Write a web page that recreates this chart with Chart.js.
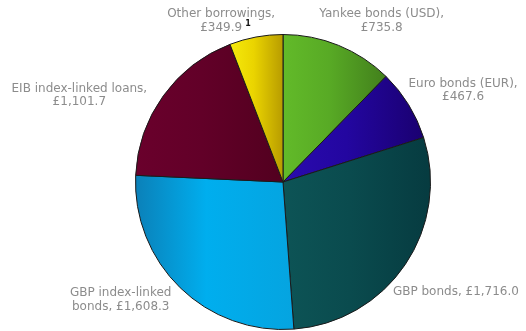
<!DOCTYPE html>
<html>
<head>
<meta charset="utf-8">
<script src="https://cdn.jsdelivr.net/npm/chart.js@4/dist/chart.umd.min.js"></script>
<style>
html,body{margin:0;padding:0;background:#fff;}
#wrap{width:526px;height:331px;}
</style>
</head>
<body>
<div id="wrap"><canvas id="pieChart"></canvas></div>
<script>
// borrowings by source, £m
const labels = ['Yankee bonds (USD)','Euro bonds (EUR)','GBP bonds','GBP index-linked bonds','EIB index-linked loans','Other borrowings'];
const amounts = [735.8, 467.6, 1716.0, 1608.3, 1101.7, 349.9];
const footnotes = ['', '', '', '', '', '1'];

// left / middle / right shade of each slice
const shades = [
  ['#62ba29','#58aa25','#427f1c'],
  ['#2a0aae','#2306a0','#1a0070'],
  ['#0d5456','#0a4b4e','#063b40'],
  ['#0b80b8','#00aeee','#05a4e0'],
  ['#6a002c','#620028','#52001f'],
  ['#f5ea0c','#ead400','#b89c00']
];

// caption placement: angle from 12 o'clock (deg), distance in radii, wrap width
const captionAngle = [31.5, 63, 122.5, 234, 293, 339];
const captionDist = [1.28, 1.37, 1.39, 1.36, 1.50, 1.17];
const captionWrap = [140, 125, 150, 115, 160, 125];

const total = amounts.reduce((a,b)=>a+b,0);
const money = v => '£' + v.toLocaleString('en-GB',{minimumFractionDigits:1,maximumFractionDigits:1});

function sliceGradient(chart, i){
  const area = chart.chartArea;
  if(!area) return shades[i][1];
  const cx = (area.left+area.right)/2, cy = (area.top+area.bottom)/2;
  const r = Math.min(area.right-area.left, area.bottom-area.top)/2;
  let before = 0;
  for(let k=0;k<i;k++) before += amounts[k];
  const a0 = -Math.PI/2 + 2*Math.PI*before/total;
  const a1 = a0 + 2*Math.PI*amounts[i]/total;
  const xs = [cx, cx + r*Math.cos(a0), cx + r*Math.cos(a1)];
  const inside = a => {
    let t = a;
    while(t < a0) t += 2*Math.PI;
    return t <= a1;
  };
  if(inside(0)) xs.push(cx + r);
  if(inside(Math.PI)) xs.push(cx - r);
  const x0 = Math.min(...xs), x1 = Math.max(...xs);
  const g = chart.ctx.createLinearGradient(x0, 0, x1, 0);
  g.addColorStop(0, shades[i][0]);
  g.addColorStop(0.45, shades[i][1]);
  g.addColorStop(1, shades[i][2]);
  return g;
}

function wrapText(ctx, text, width){
  const words = text.split(' ');
  const lines = [];
  let cur = '';
  words.forEach(w=>{
    const test = cur ? cur + ' ' + w : w;
    if(cur && ctx.measureText(test).width > width){ lines.push(cur); cur = w; }
    else cur = test;
  });
  lines.push(cur);
  return lines;
}

const captions = {
  id:'captions',
  afterDatasetsDraw(chart){
    const ctx = chart.ctx;
    const arcs = chart.getDatasetMeta(0).data;
    ctx.save();
    ctx.font = '12px "DejaVu Sans", sans-serif';
    ctx.textAlign = 'center';
    ctx.textBaseline = 'middle';
    arcs.forEach((arc,i)=>{
      const ang = captionAngle[i]*Math.PI/180;
      const d = arc.outerRadius*captionDist[i];
      const x = arc.x + d*Math.sin(ang);
      const y = arc.y - d*Math.cos(ang);
      const lines = wrapText(ctx, labels[i] + ', ' + money(amounts[i]), captionWrap[i]);
      const lh = 13.5;
      const y0 = y - (lines.length-1)*lh/2;
      lines.forEach((ln,k)=>{
        ctx.fillStyle = '#8c8c8c';
        ctx.fillText(ln, x, y0 + k*lh);
        if(footnotes[i] && k === lines.length-1){
          const w = ctx.measureText(ln).width;
          ctx.save();
          ctx.font = 'bold 8px "DejaVu Sans", sans-serif';
          ctx.fillStyle = '#111';
          ctx.textAlign = 'left';
          ctx.fillText(footnotes[i], x + w/2 + 3, y0 + k*lh - 4);
          ctx.restore();
        }
      });
    });
    ctx.restore();
  }
};

new Chart(document.getElementById('pieChart'),{
  type:'pie',
  data:{
    labels:labels,
    datasets:[{
      data:amounts,
      backgroundColor: c => sliceGradient(c.chart, c.dataIndex),
      borderColor:'#1a1a1a',
      borderWidth:1
    }]
  },
  options:{
    responsive:true,
    maintainAspectRatio:false,
    animation:false,
    layout:{padding:{top:34,bottom:1,left:40,right:0}},
    plugins:{legend:{display:false},tooltip:{enabled:false}}
  },
  plugins:[captions]
});
</script>
</body>
</html>
